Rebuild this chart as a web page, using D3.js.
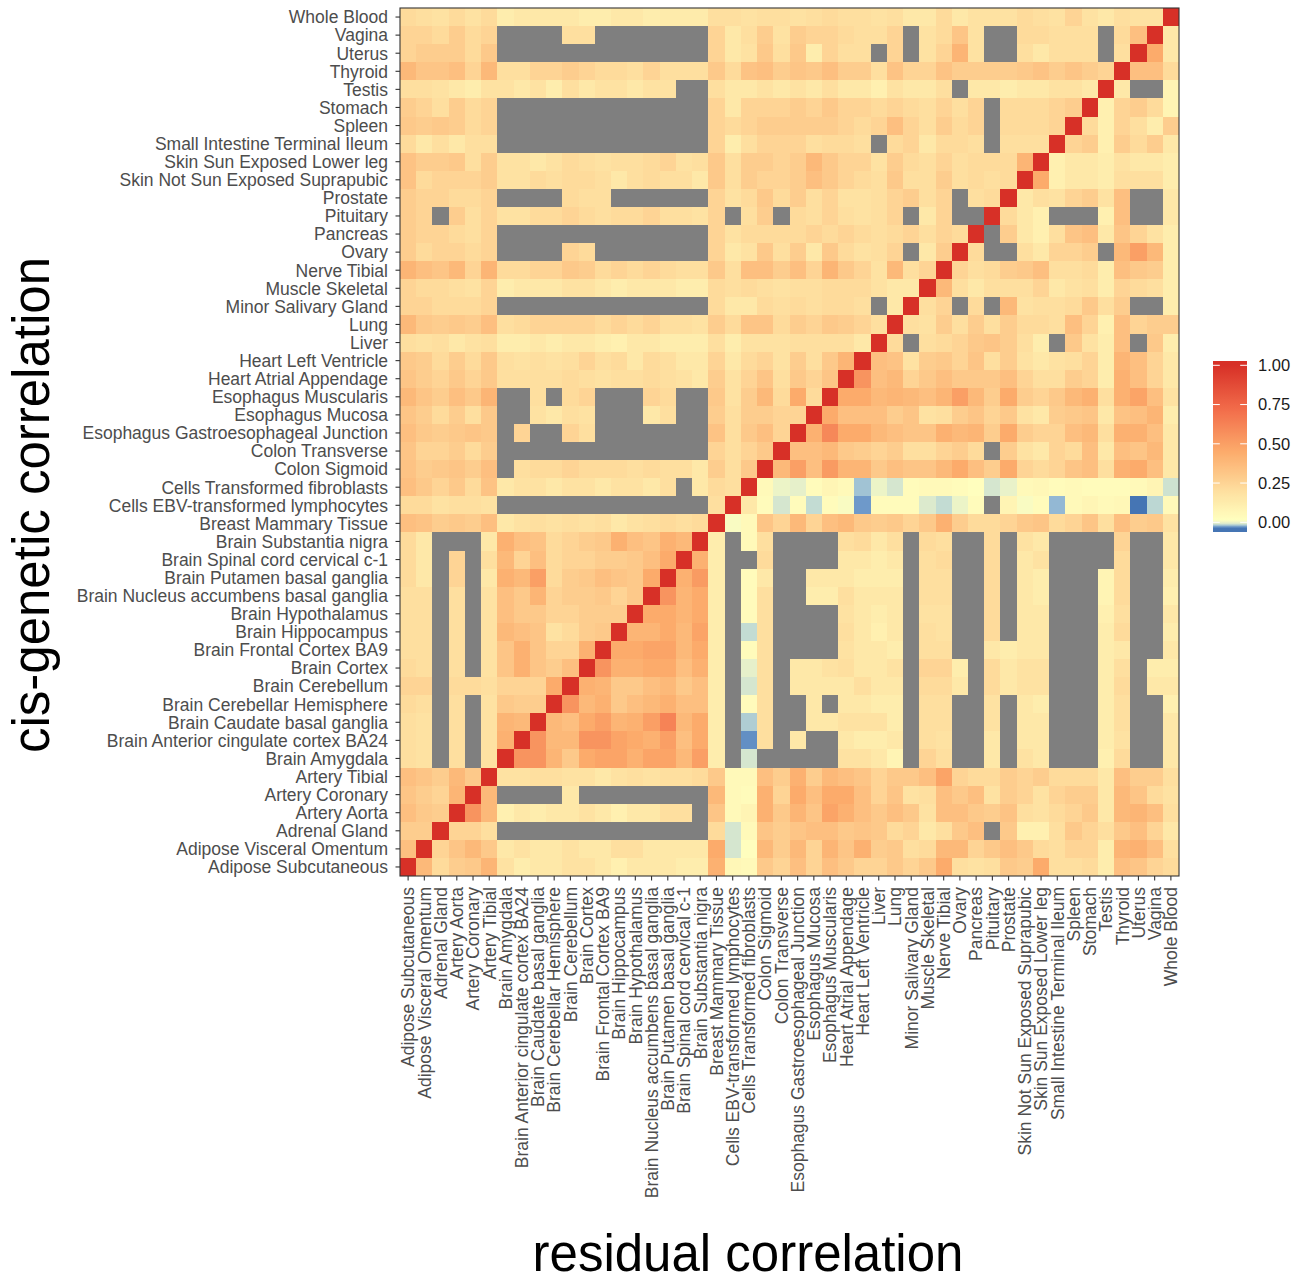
<!DOCTYPE html>
<html><head><meta charset="utf-8">
<script src="https://cdn.jsdelivr.net/npm/d3@7"></script>
<style>body{margin:0;background:#fff;} text{font-family:"Liberation Sans",Arial,Helvetica,sans-serif;}</style>
</head><body><svg id="chart" width="1301" height="1282"></svg>
<script>
const tissues = ["Adipose Subcutaneous","Adipose Visceral Omentum","Adrenal Gland","Artery Aorta","Artery Coronary","Artery Tibial","Brain Amygdala","Brain Anterior cingulate cortex BA24","Brain Caudate basal ganglia","Brain Cerebellar Hemisphere","Brain Cerebellum","Brain Cortex","Brain Frontal Cortex BA9","Brain Hippocampus","Brain Hypothalamus","Brain Nucleus accumbens basal ganglia","Brain Putamen basal ganglia","Brain Spinal cord cervical c-1","Brain Substantia nigra","Breast Mammary Tissue","Cells EBV-transformed lymphocytes","Cells Transformed fibroblasts","Colon Sigmoid","Colon Transverse","Esophagus Gastroesophageal Junction","Esophagus Mucosa","Esophagus Muscularis","Heart Atrial Appendage","Heart Left Ventricle","Liver","Lung","Minor Salivary Gland","Muscle Skeletal","Nerve Tibial","Ovary","Pancreas","Pituitary","Prostate","Skin Not Sun Exposed Suprapubic","Skin Sun Exposed Lower leg","Small Intestine Terminal Ileum","Spleen","Stomach","Testis","Thyroid","Uterus","Vagina","Whole Blood"];
const N = null;
// one row per y-axis tissue (same order as tissues), 48 values per row in x order; null = missing
const corrRows = [
[1,.38,.22,.28,.3,.4,.18,.12,.15,.15,.18,.18,.15,.1,.15,.15,.15,.12,.12,.42,.06,.05,.3,.25,.35,.25,.35,.3,.25,.25,.3,.25,.3,.45,.2,.18,.2,.3,.28,.45,.2,.2,.22,.12,.35,.32,.25,.22],
[.35,1,.25,.32,.38,.3,.15,.18,.15,.15,.18,.15,.15,.2,.2,.15,.15,.15,.15,.45,-.01,.02,.38,.28,.38,.25,.4,.32,.42,.28,.3,.2,.22,.38,.38,.25,.3,.35,.3,.22,.2,.25,.25,.12,.4,.42,.35,.2],
[.28,.28,1,.25,.25,.2,N,N,N,N,N,N,N,N,N,N,N,N,N,.22,-.01,.05,.32,.28,.32,.35,.35,.3,.32,.3,.22,.25,.15,.2,.3,.35,N,.3,.1,.1,.2,.3,.25,.2,.3,.35,.25,.15],
[.35,.3,.28,1,.55,.38,.1,.15,.12,.15,.15,.18,.15,.1,.15,.15,.2,.2,N,.32,.05,.08,.42,.3,.4,.32,.48,.42,.35,.3,.35,.3,.18,.35,.35,.3,.28,.33,.2,.18,.22,.25,.3,.15,.38,.4,.35,.2],
[.32,.28,.25,.4,1,.38,N,N,N,N,.15,N,N,N,N,N,N,N,N,.38,.05,.04,.42,.25,.45,.35,.45,.45,.35,.25,.32,.18,.2,.35,.3,.35,.18,.28,.25,.18,.25,.28,.28,.15,.38,.32,.22,.18],
[.35,.32,.28,.38,.3,1,.18,.18,.2,.2,.18,.18,.15,.18,.2,.18,.2,.2,.22,.3,.05,.05,.35,.28,.42,.28,.38,.35,.32,.25,.3,.3,.35,.48,.25,.22,.22,.28,.25,.28,.22,.22,.22,.15,.35,.28,.28,.2],
[.2,.18,N,.2,N,.18,1,.55,.55,.4,.3,.45,.48,.48,.42,.48,.48,.38,.5,.12,N,-.01,N,N,N,N,N,.18,.18,.15,.08,N,.25,.2,N,N,.15,N,.18,.15,N,N,N,.1,.22,N,N,.15],
[.2,.18,N,.2,N,.18,.42,1,.55,.38,.38,.55,.55,.48,.45,.42,.5,.35,.45,.12,N,-.03,.2,N,.15,N,N,.15,.12,.12,.15,N,.2,.18,N,N,.15,N,.15,.15,N,N,N,.12,.18,N,N,.15],
[.2,.18,N,.2,N,.18,.4,.38,1,.38,.35,.45,.5,.4,.42,.5,.62,.38,.45,.12,N,-.018,.2,N,N,.15,.15,.18,.18,.18,.12,N,.2,.2,N,N,.18,N,.15,.15,N,N,N,.12,.2,N,N,.15],
[.22,.2,N,.2,N,.18,.3,.28,.28,1,.55,.38,.42,.3,.35,.38,.42,.35,.35,.12,N,.04,.2,N,N,.15,N,.15,.15,.12,.12,N,.2,.2,N,N,.18,N,.15,.12,N,N,N,.12,.2,N,N,.1],
[.25,.25,N,.22,.22,.2,.25,.25,.25,.45,1,.42,.4,.3,.3,.35,.38,.3,.35,.12,N,-.01,.2,N,.15,.15,.15,.15,.2,.15,.15,N,.22,.22,.15,N,.22,.15,.18,.18,N,N,N,.12,.22,N,.15,.15],
[.22,.2,N,.2,N,.18,.32,.42,.32,.28,.35,1,.55,.42,.42,.45,.45,.35,.42,.12,N,-.005,.2,N,.15,.15,.18,.2,.15,.15,.18,N,.25,.25,.12,N,.22,.15,.18,.18,N,N,N,.12,.2,N,.12,.12],
[.2,.2,N,.2,N,.18,.32,.42,.32,.25,.25,.42,1,.45,.45,.48,.48,.38,.45,.12,N,.04,.2,N,N,N,N,.18,.15,.15,.12,N,.2,.2,N,N,.15,.12,.15,.15,N,N,N,.12,.15,N,N,.15],
[.2,.2,N,.2,N,.18,.38,.35,.32,.18,.22,.28,.3,1,.4,.4,.45,.38,.48,.12,N,-.015,.2,N,N,N,N,.2,.15,.1,.15,N,.2,.18,N,N,.22,N,.15,.15,N,N,N,.12,.22,N,N,.12],
[.2,.2,N,.2,N,.18,.35,.3,.3,.25,.25,.28,.28,.28,1,.45,.45,.4,.45,.12,N,.04,.2,N,N,N,N,.18,.15,.12,.15,N,.18,.18,N,N,.22,N,.15,.15,N,N,N,.1,.2,N,N,.15],
[.2,.2,N,.2,N,.18,.35,.3,.4,.25,.28,.28,.3,.25,.3,1,.55,.4,.45,.12,N,.04,.2,N,N,.12,.12,.2,.15,.15,.15,N,.2,.2,N,N,.22,N,.15,.12,N,N,N,.08,.22,N,N,.1],
[.22,.15,N,.25,N,.15,.42,.38,.5,.22,.28,.3,.35,.32,.3,.45,1,.42,.52,.12,N,.04,.15,N,N,.15,.15,.15,.12,.12,.12,N,.2,.2,N,N,.22,N,.15,.12,N,N,N,.08,.22,N,N,.12],
[.22,.15,N,.25,N,.2,.38,.25,.35,.22,.25,.25,.28,.28,.3,.35,.45,1,.42,.12,N,N,.22,N,N,N,N,.15,.15,.12,.15,N,.2,.22,N,N,.22,N,.15,.18,N,N,N,N,.22,N,N,.15],
[.22,.15,N,N,N,.15,.42,.35,.33,.22,.25,.28,.3,.42,.35,.32,.42,.38,1,.12,N,.05,.2,N,N,N,N,.2,.22,.15,.2,N,.22,.2,N,N,.22,N,.18,.15,N,N,N,N,.25,N,N,.15],
[.35,.33,.28,.3,.28,.35,.15,.18,.2,.18,.2,.18,.2,.15,.18,.2,.22,.2,.22,1,.01,.05,.32,.25,.38,.25,.35,.38,.3,.28,.3,.25,.3,.42,.28,.22,.22,.25,.3,.32,.22,.25,.32,.2,.35,.28,.3,.18],
[.22,.22,.18,.2,.2,.18,N,N,N,N,N,N,N,N,N,N,N,N,N,.2,1,.15,.04,-.01,.04,-.015,.04,.01,-.028,.04,.04,.04,-.008,-.015,0,.04,N,.08,.01,.04,-.022,.05,.07,.05,.06,-.035,-.016,.05],
[.35,.3,.25,.3,.22,.33,.15,.18,.18,.15,.18,.18,.15,.18,.18,.15,.2,N,.15,.22,.2,1,.05,0,-.005,.04,.07,.05,-.02,0,-.01,.04,.05,.05,.04,.02,-.01,-.003,.05,.06,.04,.05,.04,.04,.04,.05,.08,-.012],
[.33,.28,.3,.32,.28,.35,N,.2,.22,.22,.25,.22,.22,.22,.2,.22,.2,.2,.15,.28,.2,.3,1,.38,.5,.35,.52,.4,.4,.3,.35,.32,.32,.38,.45,.35,.28,.45,.25,.22,.25,.32,.35,.2,.42,.45,.35,.15],
[.32,.25,.25,.28,.22,.28,N,N,N,N,N,N,N,N,N,N,N,N,N,.25,.2,.25,.3,1,.35,.35,.38,.3,.28,.25,.28,.2,.2,.25,.28,.22,N,.28,.18,.15,.25,.22,.35,.15,.35,.32,.38,.15],
[.35,.3,.28,.3,.32,.3,N,.25,N,N,.25,.2,N,N,N,N,N,N,N,.33,.2,.3,.35,.25,1,.42,.6,.45,.45,.38,.35,.32,.32,.42,.38,.4,.28,.45,.28,.25,.25,.35,.38,.2,.42,.42,.35,.15],
[.32,.28,.22,.28,.2,.3,N,N,.18,.15,.2,.18,N,N,N,.15,.2,N,N,.28,.2,.28,.28,.25,.25,1,.45,.35,.35,.35,.28,.32,.18,.2,.28,.32,.25,.3,.18,.15,.28,.3,.32,.15,.33,.35,.4,.12],
[.38,.32,.28,.35,.3,.4,N,N,.2,N,.22,.25,N,N,N,.25,.22,N,N,.3,.18,.28,.38,.22,.45,.22,1,.45,.45,.38,.4,.38,.35,.4,.5,.38,.28,.45,.28,.25,.3,.38,.42,.2,.42,.48,.35,.18],
[.32,.28,.25,.3,.25,.3,.2,.2,.2,.2,.22,.2,.18,.2,.2,.22,.2,.18,.15,.28,.18,.25,.32,.2,.3,.25,.32,1,.55,.35,.38,.25,.3,.35,.3,.3,.3,.35,.25,.2,.2,.28,.25,.12,.42,.35,.25,.15],
[.3,.28,.22,.28,.22,.3,.2,.18,.2,.18,.2,.25,.2,.22,.15,.22,.2,.15,.15,.25,.15,.22,.25,.18,.28,.2,.3,.4,1,.35,.33,.18,.28,.3,.25,.32,.2,.28,.18,.15,.18,.2,.25,.12,.4,.35,.25,.15],
[.2,.18,.2,.15,.18,.2,.12,.12,.15,.12,.15,.15,.12,.1,.15,.15,.12,.12,.12,.2,.12,.18,.18,.18,.2,.2,.2,.2,.15,1,.22,N,.2,.22,.25,.3,.32,.28,.2,.12,N,.3,.18,.12,.35,N,.3,.12],
[.38,.3,.28,.3,.28,.35,.2,.22,.25,.25,.25,.25,.22,.25,.22,.25,.2,.2,.18,.28,.22,.32,.32,.22,.28,.25,.3,.28,.25,.2,1,.2,.18,.28,.2,.28,.2,.28,.22,.22,.2,.35,.25,.1,.35,.25,.28,.28],
[.25,.25,.22,.22,.22,.25,N,N,N,N,N,N,N,N,N,N,N,N,N,.22,.15,.15,.22,.2,.22,.2,.22,.22,.2,N,.15,1,.2,.25,N,.22,N,.38,.18,.2,.2,.22,.3,.2,.28,N,N,.12],
[.25,.22,.22,.2,.18,.25,.12,.15,.15,.15,.18,.18,.15,.12,.15,.15,.15,.12,.12,.22,.2,.22,.2,.18,.2,.2,.22,.22,.22,.18,.15,.15,1,.38,.2,.15,.2,.2,.2,.25,.15,.18,.2,.12,.25,.22,.2,.12],
[.4,.35,.32,.38,.25,.4,.22,.22,.25,.25,.3,.28,.22,.25,.22,.25,.22,.2,.2,.3,.2,.35,.35,.28,.35,.25,.4,.3,.25,.18,.38,.2,.25,1,.25,.2,.22,.28,.3,.35,.2,.2,.22,.12,.35,.3,.28,.12],
[.28,.22,.25,.25,.22,.25,N,N,N,N,.25,.22,N,N,N,N,N,N,N,.25,.15,.18,.3,.2,.28,.15,.3,.22,.18,.2,.25,N,.15,.28,1,.22,N,N,.2,.15,.25,.25,.28,N,.38,.5,.38,.12],
[.28,.25,.25,.22,.2,.25,N,N,N,N,N,N,N,N,N,N,N,N,N,.25,.18,.22,.22,.22,.22,.25,.22,.25,.22,.2,.22,.25,.2,.25,.22,1,N,.28,.15,.1,.2,.32,.35,.15,.32,.25,.18,.12],
[.28,.25,N,.28,.2,.25,.18,.18,.22,.22,.25,.22,.2,.22,.22,.25,.2,.2,.18,.25,N,.2,.28,N,.22,.2,.25,.2,.18,.2,.25,N,.15,.25,N,N,1,.22,.15,.1,N,N,N,.1,.35,N,N,.15],
[.28,.25,.25,.22,.22,.25,N,N,N,N,.22,.2,.2,N,N,N,N,N,N,.25,.18,.22,.3,.22,.28,.2,.25,.18,.18,.2,.25,.28,.2,.25,N,.2,.22,1,.15,.2,.18,.25,.28,.18,.35,N,N,.15],
[.33,.22,.25,.25,.25,.28,.18,.18,.22,.2,.22,.22,.2,.15,.2,.22,.2,.2,.15,.3,.2,.28,.25,.25,.28,.35,.3,.25,.22,.2,.3,.2,.2,.28,.2,.22,.2,.22,1,.45,.1,.15,.15,.12,.2,.2,.2,.12],
[.33,.28,.28,.3,.2,.28,.18,.18,.15,.18,.22,.2,.18,.2,.2,.22,.25,.18,.2,.3,.2,.28,.28,.25,.28,.38,.3,.25,.25,.18,.28,.22,.2,.25,.2,.22,.22,.22,.4,1,.1,.15,.15,.12,.18,.15,.15,.12],
[.22,.15,.2,.15,.2,.2,N,N,N,N,N,N,N,N,N,N,N,N,N,.25,.12,.2,.25,.25,.25,.2,.22,.22,.2,N,.22,.25,.15,.22,.22,.2,N,.2,.2,.2,1,.25,.28,.1,.28,.22,.28,.15],
[.3,.28,.3,.28,.22,.25,N,N,N,N,N,N,N,N,N,N,N,N,N,.25,.22,.25,.28,.28,.28,.28,.28,.25,.22,.25,.35,.25,.2,.28,.22,.25,N,.22,.22,.22,.25,1,.22,.1,.25,.2,.12,.28],
[.28,.25,.2,.28,.22,.25,N,N,N,N,N,N,N,N,N,N,N,N,N,.25,.15,.25,.25,.25,.28,.25,.3,.25,.25,.22,.25,.22,.2,.25,.2,.25,N,.22,.22,.22,.25,.28,1,.1,.25,.28,.22,.08],
[.2,.2,.18,.15,.12,.18,.18,.15,.18,.12,.2,.15,.18,.18,.15,.18,.18,N,N,.2,.15,.15,.18,.15,.18,.15,.2,.15,.15,.1,.18,.15,.15,.2,N,.15,.15,.12,.15,.15,.18,.18,.15,1,.15,N,N,.08],
[.38,.32,.32,.35,.25,.38,.2,.2,.25,.25,.28,.25,.22,.22,.2,.25,.2,.2,.2,.3,.22,.33,.35,.28,.32,.3,.35,.28,.28,.2,.33,.25,.25,.33,.28,.28,.28,.28,.3,.33,.28,.32,.28,.25,1,.35,.35,.22],
[.25,.28,.28,.28,.22,.3,N,N,N,N,N,N,N,N,N,N,N,N,N,.25,.15,.18,.3,.2,.3,.12,.25,.2,.2,N,.25,N,.18,.25,.4,.18,N,N,.2,.15,.2,.2,.2,N,.2,1,.45,.15],
[.25,.25,.22,.28,.22,.25,N,N,N,N,.2,.2,N,N,N,N,N,N,N,.25,.15,.2,.28,.18,.28,.25,.25,.22,.2,.2,.25,N,.18,.22,.32,.18,N,N,.22,.22,.2,.2,.2,N,.22,.35,1,.15],
[.22,.2,.18,.22,.18,.22,.12,.15,.15,.15,.15,.12,.12,.15,.15,.12,.13,.13,.13,.2,.2,.18,.2,.2,.18,.2,.22,.2,.2,.18,.2,.15,.15,.22,.15,.18,.18,.18,.22,.2,.18,.25,.18,.15,.2,.18,.18,1]
];
const legendBreaks = [0, 0.25, 0.5, 0.75, 1];
const legendLabels = ["0.00", "0.25", "0.50", "0.75", "1.00"];
const dataMin = -0.035, dataMax = 1;
const colorStops = [-0.035, -0.025, -0.015, -0.005, 0.015, 0.2, 0.3, 0.45, 0.72, 1];
const colorRange = ["#4575b4", "#7fa9d4", "#c3dcd3", "#e6f0ca", "#ffffbf", "#fedf9f", "#fdc98a", "#fcab6b", "#f26c4a", "#d73027"];

corrRows.forEach((r, i) => { if (r.length !== 48) throw new Error("row " + i + " has " + r.length); });

const svg = d3.select("#chart");
const P = {left: 400, right: 1179, top: 8, bottom: 876};
const x = d3.scaleBand().domain(tissues).range([P.left, P.right]);
const y = d3.scaleBand().domain(tissues.slice().reverse()).range([P.top, P.bottom]);
const color = d3.scaleLinear().domain(colorStops).range(colorRange).interpolate(d3.interpolateRgb).clamp(true);

const cells = [];
corrRows.forEach((row, i) => row.forEach((v, j) => cells.push({row: tissues[i], col: tissues[j], v})));
svg.append("g").selectAll("rect").data(cells).join("rect")
  .attr("x", d => x(d.col)).attr("y", d => y(d.row))
  .attr("width", x.bandwidth()).attr("height", y.bandwidth())
  .attr("shape-rendering", "crispEdges")
  .attr("fill", d => d.v === null ? "#7f7f7f" : color(d.v));

svg.append("rect").attr("x", P.left).attr("y", P.top)
  .attr("width", P.right - P.left).attr("height", P.bottom - P.top)
  .attr("fill", "none").attr("stroke", "#333333").attr("stroke-width", 1.1);

const gy = svg.append("g").attr("transform", `translate(${P.left},0)`)
  .call(d3.axisLeft(y).tickSize(4.5).tickPadding(7.5).tickSizeOuter(0));
gy.select(".domain").remove();
gy.selectAll(".tick line").attr("stroke", "#333333").attr("stroke-width", 1.1);
gy.selectAll(".tick text").attr("fill", "#4d4d4d").attr("font-size", "17.5px")
  .attr("font-family", '"Liberation Sans",Arial,sans-serif').attr("dy", "0.36em");

const gx = svg.append("g").attr("transform", `translate(0,${P.bottom})`)
  .call(d3.axisBottom(x).tickSize(4.5).tickPadding(6.5).tickSizeOuter(0));
gx.select(".domain").remove();
gx.selectAll(".tick line").attr("stroke", "#333333").attr("stroke-width", 1.1);
gx.selectAll(".tick text").attr("fill", "#4d4d4d").attr("font-size", "17.5px")
  .attr("font-family", '"Liberation Sans",Arial,sans-serif')
  .attr("transform", "rotate(-90)").attr("text-anchor", "end")
  .attr("x", -11).attr("y", 0).attr("dy", "0.36em");

svg.append("text").attr("x", 748).attr("y", 1271).attr("text-anchor", "middle")
  .attr("font-size", "51px").attr("fill", "#000").text("residual correlation");
svg.append("text").attr("transform", "translate(49,505) rotate(-90)").attr("text-anchor", "middle")
  .attr("font-size", "51px").attr("fill", "#000").text("cis-genetic correlation");

// legend colourbar
const L = {x: 1213, w: 34, top: 361, bottom: 532};
const lv = d3.scaleLinear().domain([0, 1]).range([522.3, 365.3]);
const defs = svg.append("defs");
const grad = defs.append("linearGradient").attr("id", "lg").attr("x1", 0).attr("y1", 1).attr("x2", 0).attr("y2", 0);
d3.range(0, 1.0001, 0.01).forEach(t => {
  const py = L.bottom - t * (L.bottom - L.top);
  const v = Math.max(dataMin, Math.min(dataMax, lv.invert(py)));
  grad.append("stop").attr("offset", t).attr("stop-color", color(v));
});
svg.append("rect").attr("x", L.x).attr("y", L.top).attr("width", L.w).attr("height", L.bottom - L.top).attr("fill", "url(#lg)");
const lg = svg.append("g");
legendBreaks.forEach((b, i) => {
  const py = lv(b);
  lg.append("line").attr("x1", L.x).attr("x2", L.x + 6.8).attr("y1", py).attr("y2", py).attr("stroke", "#fff").attr("stroke-width", 1);
  lg.append("line").attr("x1", L.x + L.w - 6.8).attr("x2", L.x + L.w).attr("y1", py).attr("y2", py).attr("stroke", "#fff").attr("stroke-width", 1);
  lg.append("text").attr("x", 1258).attr("y", py).attr("dy", "0.36em").attr("font-size", "16.5px").attr("fill", "#1a1a1a").text(legendLabels[i]);
});
</script></body></html>
